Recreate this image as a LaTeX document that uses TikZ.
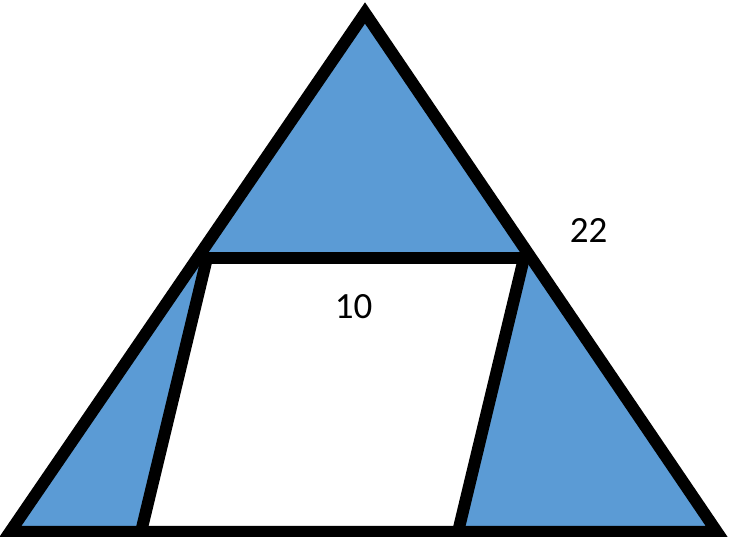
\documentclass[tikz,border=0pt]{standalone}
\usepackage{fontspec}
\setmainfont{Carlito}
\definecolor{fillblue}{HTML}{5B9BD5}
\tikzset{
  edge/.style={draw=black, line width=12pt, line join=miter, miter limit=10},
  lbl/.style={font=\fontsize{37}{40}\selectfont, inner sep=0pt}
}
\begin{document}
\begin{tikzpicture}[x=1pt,y=1pt]
\useasboundingbox (0,0) rectangle (730,537);
\begin{scope}
\clip (0,0) rectangle (730,537);
\coordinate (A) at (365,524);
\coordinate (L) at (10,5);
\coordinate (R) at (717,5);
\coordinate (ML) at (197,279);
\coordinate (MR) at (531,279);
\coordinate (P1) at (207,279);
\coordinate (P2) at (524,279);
\coordinate (P3) at (458,5);
\coordinate (P4) at (141,5);
\fill[fillblue] (A) -- (R) -- (L) -- cycle;
\fill[white] (P1) -- (P2) -- (P3) -- (P4) -- cycle;
\draw[edge] (A) -- (R) -- (L) -- cycle;
\draw[edge] (ML) -- (MR);
\draw[edge] (P2) -- (P3);
\draw[edge] (P1) -- (P4);
\end{scope}
\node[lbl] (l22) at (588.5,306) {22};
\node[lbl] (l10) at (353.5,230) {10};
\end{tikzpicture}
\end{document}
